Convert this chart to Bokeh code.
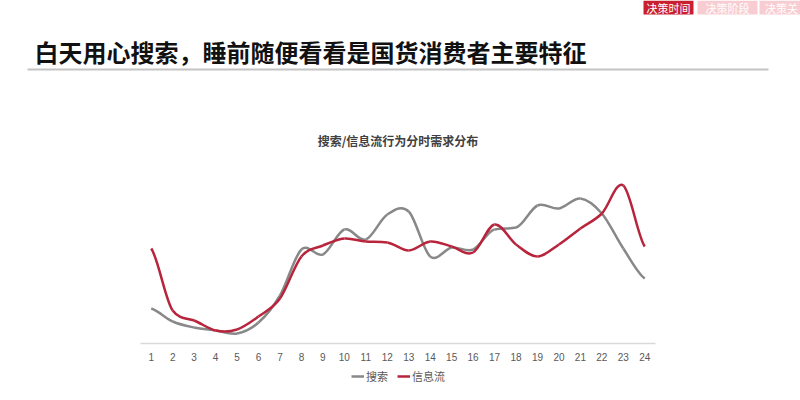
from bokeh.plotting import figure
from bokeh.models import (Label, BoxAnnotation, Legend, LegendItem, FixedTicker,
                          ColumnDataSource, Range1d)
from bokeh.embed import file_html
from bokeh.resources import INLINE

# ---------------- data ----------------
hours = [1, 2, 3, 4, 5, 6, 7, 8, 9, 10, 11, 12, 13, 14, 15, 16, 17, 18, 19, 20, 21, 22, 23, 24]
search = [35, 22, 16, 13, 10, 21, 48, 94, 89, 114, 104, 129, 132, 87, 96, 94, 114, 116, 138, 135, 145, 130, 95, 65]
feed = [95, 33, 23, 13, 14, 27, 45, 87, 98, 105, 102, 101, 93, 102, 97, 91, 119, 99, 87, 99, 115, 130, 158, 97]
series_names = ["搜索", "信息流"]
title_text = "白天用心搜索，睡前随便看看是国货消费者主要特征"
chart_title = "搜索/信息流行为分时需求分布"
tabs = ["决策时间", "决策阶段", "决策关"]

FONT = "Noto Sans CJK SC"
W, H = 800, 400
PL, PR, PB = 140, 655, 343            # plot area (axis span / baseline) in page pixels
unit = (PR - PL) / len(hours)         # pixels per category slot
x_start = 0.5 - PL / unit
x_end = 24.5 + (W - PR) / unit

p = figure(width=W, height=H, output_backend="svg", toolbar_location=None,
           x_range=Range1d(x_start, x_end), y_range=Range1d(PB - H, PB),
           y_axis_type=None, min_border=0,
           styles={"position": "absolute", "left": "0px", "top": "0px"})
p.outline_line_color = None
p.grid.visible = False
p.background_fill_color = "white"
p.border_fill_color = "white"

ax = p.xaxis[0]
ax.fixed_location = 0
ax.ticker = FixedTicker(ticks=hours)
ax.axis_line_color = None
ax.major_tick_line_color = None
ax.minor_tick_line_color = None
ax.major_label_text_color = "#595959"
ax.major_label_text_font = "Liberation Sans"
ax.major_label_text_font_size = "10px"
ax.major_label_standoff = 3

# category axis baseline (only across the plot area)
p.segment(x0=[0.5], y0=[0], x1=[24.5], y1=[0], line_color="#d9d9d9", line_width=1.5)


def bezier_source(xs, ys):
    """Smooth (Excel-like) curve through the data points as cubic Bezier pieces."""
    n = len(xs)
    m = []
    for i in range(n):
        if i == 0:
            t = (ys[1] - ys[0]) / 2
        elif i == n - 1:
            t = (ys[-1] - ys[-2]) / 2
        else:
            t = (ys[i + 1] - ys[i - 1]) / 2
        m.append(t)
    # keep monotone stretches monotone (Fritsch-Carlson)
    for i in range(n - 1):
        d = ys[i + 1] - ys[i]
        if d == 0:
            continue
        a, b = m[i] / d, m[i + 1] / d
        if a > 0 and b > 0 and a * a + b * b > 9:
            tau = 3 / (a * a + b * b) ** 0.5
            m[i] = tau * a * d
            m[i + 1] = tau * b * d
    d = dict(x0=[], y0=[], x1=[], y1=[], cx0=[], cy0=[], cx1=[], cy1=[])
    for i in range(n - 1):
        dx = xs[i + 1] - xs[i]
        d["x0"].append(xs[i]); d["y0"].append(ys[i])
        d["x1"].append(xs[i + 1]); d["y1"].append(ys[i + 1])
        d["cx0"].append(xs[i] + dx / 3)
        d["cy0"].append(ys[i] + m[i] / 3)
        d["cx1"].append(xs[i + 1] - dx / 3)
        d["cy1"].append(ys[i + 1] - m[i + 1] / 3)
    return ColumnDataSource(d)


r_search = p.bezier(x0="x0", y0="y0", x1="x1", y1="y1", cx0="cx0", cy0="cy0",
                    cx1="cx1", cy1="cy1", source=bezier_source(hours, search),
                    line_color="#888888", line_width=2.5)
r_feed = p.bezier(x0="x0", y0="y0", x1="x1", y1="y1", cx0="cx0", cy0="cy0",
                  cx1="cx1", cy1="cy1", source=bezier_source(hours, feed),
                  line_color="#b8243c", line_width=2.5)

legend = Legend(items=[LegendItem(label=series_names[0], renderers=[r_search]),
                       LegendItem(label=series_names[1], renderers=[r_feed])],
                orientation="horizontal", location=(351, H - 370 - 14),
                label_text_font=FONT, label_text_font_size="11px",
                label_text_color="#595959", glyph_width=13, glyph_height=14,
                label_height=14, label_standoff=2, spacing=9, padding=0, margin=0,
                border_line_color=None, background_fill_alpha=0)
p.add_layout(legend)


def sx(x):
    return x


def sy(y):
    return H - y


# main title
p.add_layout(Label(x=sx(34), y=sy(51), x_units="screen", y_units="screen",
                   text=title_text, text_font=FONT, text_font_size="24px",
                   text_font_style="bold", text_color="#111111",
                   text_baseline="middle", text_align="left"))
# separator
p.add_layout(BoxAnnotation(left=sx(27), right=sx(768), top=sy(68), bottom=sy(70),
                           left_units="screen", right_units="screen",
                           top_units="screen", bottom_units="screen",
                           fill_color="#c4c4c4", fill_alpha=1, line_color=None))
# chart title
p.add_layout(Label(x=sx((PL + PR) / 2), y=sy(140), x_units="screen", y_units="screen",
                   text=chart_title, text_font=FONT, text_font_size="12px",
                   text_font_style="bold", text_color="#404040",
                   text_baseline="middle", text_align="center"))

# tabs
tab_edges = [(643, 693), (697, 757), (759, 810)]
tab_fill = ["#c8202e", "#f8cdd2", "#f8cdd2"]
tab_cx = [668, 727, 781]
for (l, r), name, fc, cx in zip(tab_edges, tabs, tab_fill, tab_cx):
    p.add_layout(BoxAnnotation(left=sx(l), right=sx(r), top=sy(0), bottom=sy(14),
                               left_units="screen", right_units="screen",
                               top_units="screen", bottom_units="screen",
                               fill_color=fc, fill_alpha=1, line_color=None))
    p.add_layout(Label(x=sx(cx), y=sy(7), x_units="screen", y_units="screen",
                       text=name, text_font=FONT, text_font_size="11px",
                       text_color="white", text_baseline="middle", text_align="center"))

open("out.html", "w").write(file_html(p, INLINE))
